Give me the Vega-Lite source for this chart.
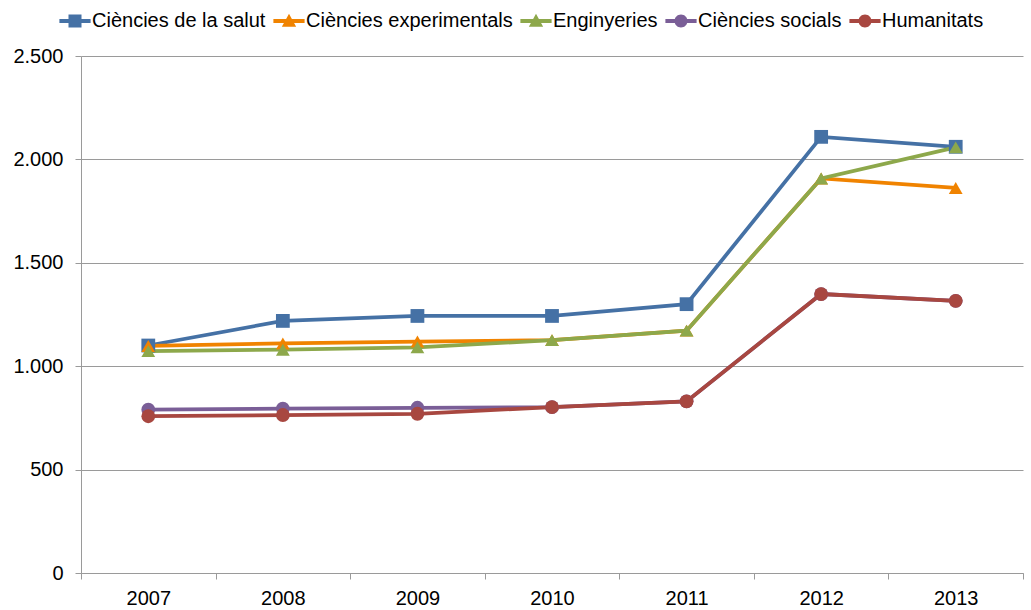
{
  "$schema": "https://vega.github.io/schema/vega-lite/v6.json",
  "width": 942,
  "height": 517,
  "autosize": {"type": "none"},
  "padding": {"left": 81, "top": 56, "right": 8, "bottom": 37},
  "background": "white",
  "config": {"view": {"stroke": null}, "font": "Liberation Sans"},
  "data": {
    "values": [
      {"year": "2007", "series": "Ciències de la salut", "value": 1100},
      {"year": "2008", "series": "Ciències de la salut", "value": 1219},
      {"year": "2009", "series": "Ciències de la salut", "value": 1243},
      {"year": "2010", "series": "Ciències de la salut", "value": 1243},
      {"year": "2011", "series": "Ciències de la salut", "value": 1300},
      {"year": "2012", "series": "Ciències de la salut", "value": 2109},
      {"year": "2013", "series": "Ciències de la salut", "value": 2061},
      {"year": "2007", "series": "Ciències experimentals", "value": 1098},
      {"year": "2008", "series": "Ciències experimentals", "value": 1110},
      {"year": "2009", "series": "Ciències experimentals", "value": 1119},
      {"year": "2010", "series": "Ciències experimentals", "value": 1126},
      {"year": "2011", "series": "Ciències experimentals", "value": 1172},
      {"year": "2012", "series": "Ciències experimentals", "value": 1908},
      {"year": "2013", "series": "Ciències experimentals", "value": 1862},
      {"year": "2007", "series": "Enginyeries", "value": 1073},
      {"year": "2008", "series": "Enginyeries", "value": 1080},
      {"year": "2009", "series": "Enginyeries", "value": 1091},
      {"year": "2010", "series": "Enginyeries", "value": 1126},
      {"year": "2011", "series": "Enginyeries", "value": 1172},
      {"year": "2012", "series": "Enginyeries", "value": 1908},
      {"year": "2013", "series": "Enginyeries", "value": 2058},
      {"year": "2007", "series": "Ciències socials", "value": 790},
      {"year": "2008", "series": "Ciències socials", "value": 795},
      {"year": "2009", "series": "Ciències socials", "value": 799},
      {"year": "2010", "series": "Ciències socials", "value": 802},
      {"year": "2011", "series": "Ciències socials", "value": 830},
      {"year": "2012", "series": "Ciències socials", "value": 1349},
      {"year": "2013", "series": "Ciències socials", "value": 1316},
      {"year": "2007", "series": "Humanitats", "value": 758},
      {"year": "2008", "series": "Humanitats", "value": 764},
      {"year": "2009", "series": "Humanitats", "value": 770},
      {"year": "2010", "series": "Humanitats", "value": 802},
      {"year": "2011", "series": "Humanitats", "value": 830},
      {"year": "2012", "series": "Humanitats", "value": 1349},
      {"year": "2013", "series": "Humanitats", "value": 1316}
    ]
  },
  "encoding": {
    "x": {
      "field": "year",
      "type": "ordinal",
      "sort": null,
      "scale": {"paddingInner": 0, "paddingOuter": 0},
      "axis": {
        "title": null,
        "labelAngle": 0,
        "tickBand": "extent",
        "tickSize": 6,
        "tickColor": "#9a9a9a",
        "domainColor": "#9a9a9a",
        "labelFont": "Liberation Sans",
        "labelFontSize": 20,
        "labelColor": "#000000",
        "labelPadding": 9,
        "grid": false
      }
    },
    "y": {
      "field": "value",
      "type": "quantitative",
      "scale": {"domain": [0, 2500], "nice": false},
      "axis": {
        "title": null,
        "values": [0, 500, 1000, 1500, 2000, 2500],
        "labelExpr": "replace(format(datum.value, ','), ',', '.')",
        "tickSize": 6,
        "tickColor": "#9a9a9a",
        "domainColor": "#9a9a9a",
        "gridColor": "#9a9a9a",
        "gridWidth": 1,
        "labelFont": "Liberation Sans",
        "labelFontSize": 20,
        "labelColor": "#000000",
        "labelPadding": 12
      }
    }
  },
  "layer": [
    {
      "mark": {"type": "line", "strokeWidth": 3.75},
      "encoding": {
        "color": {
          "field": "series",
          "type": "nominal",
          "scale": {
            "domain": ["Ciències de la salut", "Ciències experimentals", "Enginyeries", "Ciències socials", "Humanitats"],
            "range": ["#4571a5", "#f08300", "#8da84b", "#7a5e97", "#a84740"]
          },
          "legend": null
        }
      }
    },
    {
      "mark": {"type": "point", "filled": true, "opacity": 1, "size": 190},
      "encoding": {
        "color": {
          "field": "series",
          "type": "nominal",
          "scale": {
            "domain": ["Ciències de la salut", "Ciències experimentals", "Enginyeries", "Ciències socials", "Humanitats"],
            "range": ["#4571a5", "#f08300", "#8da84b", "#7a5e97", "#a84740"]
          },
          "legend": null
        },
        "shape": {
          "field": "series",
          "type": "nominal",
          "scale": {
            "domain": ["Ciències de la salut", "Ciències experimentals", "Enginyeries", "Ciències socials", "Humanitats"],
            "range": ["square", "triangle-up", "triangle-up", "circle", "circle"]
          },
          "legend": null
        }
      }
    },
    {
      "transform": [{"filter": "datum.value < 0"}],
      "mark": {"type": "point", "filled": true, "opacity": 1, "size": 169},
      "encoding": {
        "color": {
          "field": "series",
          "type": "nominal",
          "scale": {
            "domain": ["Ciències de la salut", "Ciències experimentals", "Enginyeries", "Ciències socials", "Humanitats"],
            "range": ["#4571a5", "#f08300", "#8da84b", "#7a5e97", "#a84740"]
          },
          "legend": {
            "orient": "none",
            "legendX": -16,
            "legendY": -45,
            "direction": "horizontal",
            "columns": 5,
            "title": null,
            "padding": 0,
            "symbolSize": 169,
            "labelOffset": 7,
            "columnPadding": 7,
            "labelFont": "Liberation Sans",
            "labelFontSize": 20,
            "labelColor": "#000000",
            "labelLimit": 0
          }
        },
        "shape": {
          "field": "series",
          "type": "nominal",
          "scale": {
            "domain": ["Ciències de la salut", "Ciències experimentals", "Enginyeries", "Ciències socials", "Humanitats"],
            "range": [
              "M-2.4,-0.3H2.4V0.3H-2.4Z M-1,-1H1V1H-1Z",
              "M-2.4,-0.3H2.4V0.3H-2.4Z M0,-1.1L1.1,0.9H-1.1Z",
              "M-2.4,-0.3H2.4V0.3H-2.4Z M0,-1.1L1.1,0.9H-1.1Z",
              "M-2.4,-0.3H2.4V0.3H-2.4Z M-1,0A1,1,0,1,1,1,0A1,1,0,1,1,-1,0Z",
              "M-2.4,-0.3H2.4V0.3H-2.4Z M-1,0A1,1,0,1,1,1,0A1,1,0,1,1,-1,0Z"
            ]
          },
          "legend": {
            "orient": "none",
            "legendX": -16,
            "legendY": -45,
            "direction": "horizontal",
            "columns": 5,
            "title": null,
            "padding": 0,
            "symbolSize": 169,
            "labelOffset": 7,
            "columnPadding": 7,
            "labelFont": "Liberation Sans",
            "labelFontSize": 20,
            "labelColor": "#000000",
            "labelLimit": 0
          }
        }
      }
    }
  ],
  "resolve": {"scale": {"color": "independent", "shape": "independent"}}
}
